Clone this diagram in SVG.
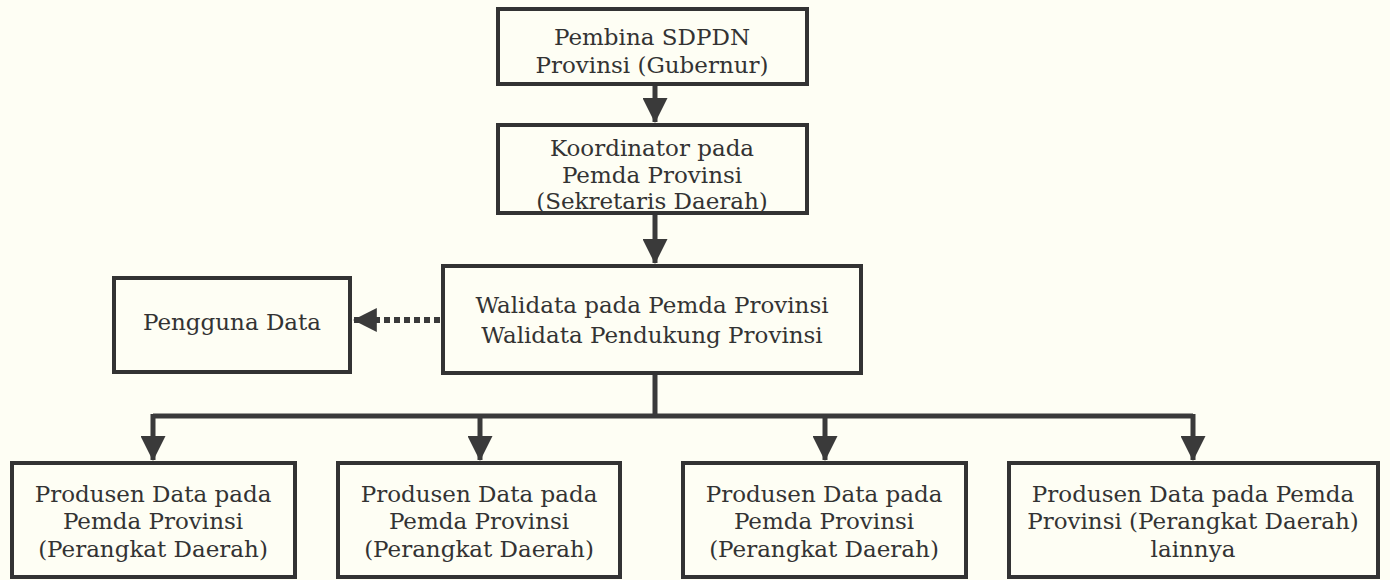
<svg xmlns="http://www.w3.org/2000/svg" width="1390" height="580" viewBox="0 0 1390 580">
<style>
.box{fill:#fefef4;stroke:#333;stroke-width:4}
.t{font-family:"DejaVu Serif",serif;font-size:23px;fill:#333;text-anchor:middle}
.c{stroke:#3a3a3a;stroke-width:5;fill:none}
.d{stroke:#3a3a3a;stroke-width:6;fill:none;stroke-dasharray:6 4}
</style>
<defs>
<marker id="ah" markerWidth="5" markerHeight="5" refX="4.8" refY="2.5" orient="auto" markerUnits="strokeWidth"><path d="M0,0 L5,2.5 L0,5 Z" fill="#3a3a3a"/></marker>
<marker id="ah2" markerWidth="4" markerHeight="4" refX="3.8" refY="2" orient="auto" markerUnits="strokeWidth"><path d="M0,0 L4,2 L0,4 Z" fill="#3a3a3a"/></marker>
</defs>
<rect width="1390" height="580" fill="#fefef4"/>
<g id="connectors">
<line class="c" x1="655" y1="84" x2="655" y2="122" marker-end="url(#ah)"/>
<line class="c" x1="655" y1="213" x2="655" y2="263" marker-end="url(#ah)"/>
<line class="d" x1="440" y1="320" x2="354" y2="320" marker-end="url(#ah2)"/>
<polyline class="c" points="655,373 655,416"/>
<polyline class="c" points="153,416 1193,416"/>
<line class="c" x1="153" y1="414" x2="153" y2="460" marker-end="url(#ah)"/>
<line class="c" x1="480" y1="416" x2="480" y2="460" marker-end="url(#ah)"/>
<line class="c" x1="825" y1="416" x2="825" y2="460" marker-end="url(#ah)"/>
<line class="c" x1="1193" y1="414" x2="1193" y2="460" marker-end="url(#ah)"/>
</g>
<g id="pembina"><rect class="box" x="498" y="9" width="309" height="75"/>
<text class="t" x="652" y="45">Pembina SDPDN</text><text class="t" x="652" y="73">Provinsi (Gubernur)</text></g>
<g id="koordinator"><rect class="box" x="498" y="125" width="309" height="88"/>
<text class="t" x="652" y="156">Koordinator pada</text><text class="t" x="652" y="183">Pemda Provinsi</text><text class="t" x="652" y="209">(Sekretaris Daerah)</text></g>
<g id="walidata"><rect class="box" x="443" y="266" width="418" height="107"/>
<text class="t" x="652" y="313">Walidata pada Pemda Provinsi</text><text class="t" x="652" y="343">Walidata Pendukung Provinsi</text></g>
<g id="pengguna"><rect class="box" x="114" y="278" width="236" height="94"/>
<text class="t" x="232" y="330">Pengguna Data</text></g>
<g id="produsen1"><rect class="box" x="12" y="463" width="283" height="114"/>
<text class="t" x="153" y="502">Produsen Data pada</text><text class="t" x="153" y="529">Pemda Provinsi</text><text class="t" x="153" y="557">(Perangkat Daerah)</text></g>
<g id="produsen2"><rect class="box" x="338" y="463" width="282" height="114"/>
<text class="t" x="479" y="502">Produsen Data pada</text><text class="t" x="479" y="529">Pemda Provinsi</text><text class="t" x="479" y="557">(Perangkat Daerah)</text></g>
<g id="produsen3"><rect class="box" x="683" y="463" width="283" height="114"/>
<text class="t" x="824" y="502">Produsen Data pada</text><text class="t" x="824" y="529">Pemda Provinsi</text><text class="t" x="824" y="557">(Perangkat Daerah)</text></g>
<g id="produsen4"><rect class="box" x="1009" y="463" width="369" height="114"/>
<text class="t" x="1193" y="502">Produsen Data pada Pemda</text><text class="t" x="1193" y="529">Provinsi (Perangkat Daerah)</text><text class="t" x="1193" y="557">lainnya</text></g>
</svg>
